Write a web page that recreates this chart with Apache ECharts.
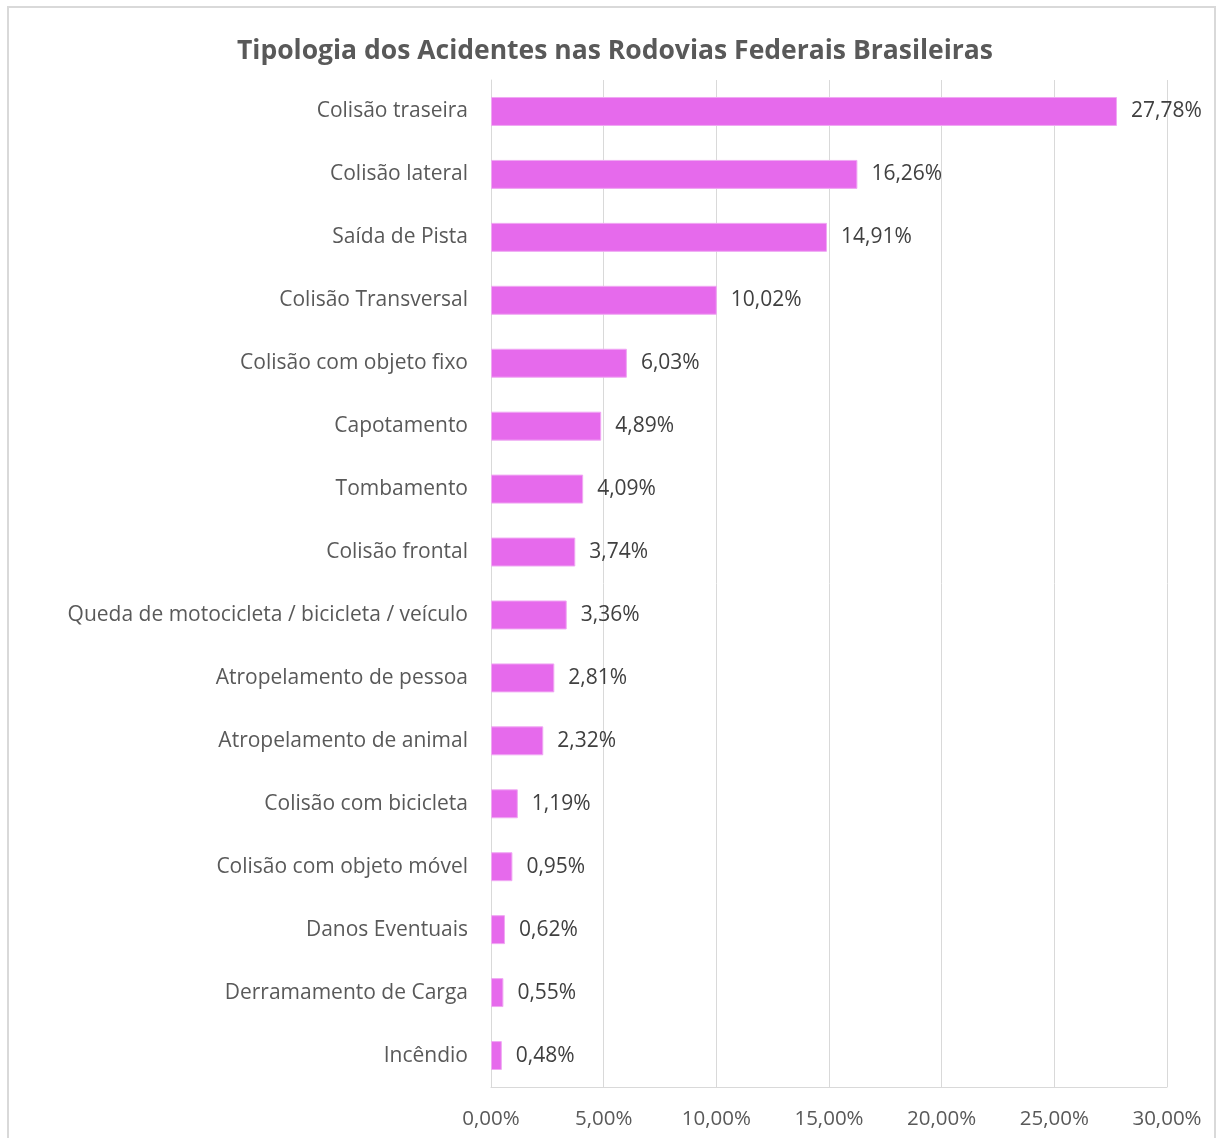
<!DOCTYPE html>
<html lang="pt">
<head>
<meta charset="UTF-8">
<style>
    html, body { height: 100%; margin: 0; background: #fff; }
    #frame {
        position: absolute; left: 7px; top: 6px; width: 1209px; height: 1150px;
        border: 2px solid #D9D9D9; box-sizing: border-box;
    }
    #chart { position: absolute; left: 0; top: 0; width: 1219px; height: 1138px; }
</style>
</head>
<body>
<div id="frame"></div>
<div id="chart"></div>
<script src="https://cdn.jsdelivr.net/npm/echarts@6/dist/echarts.min.js"></script>
<script>
    var categorias = [
        'Colisão traseira', 'Colisão lateral', 'Saída de Pista', 'Colisão Transversal',
        'Colisão com objeto fixo', 'Capotamento', 'Tombamento', 'Colisão frontal',
        'Queda de motocicleta / bicicleta / veículo', 'Atropelamento de pessoa',
        'Atropelamento de animal', 'Colisão com bicicleta', 'Colisão com objeto móvel',
        'Danos Eventuais', 'Derramamento de Carga', 'Incêndio'
    ];
    var percentuais = [27.78, 16.26, 14.91, 10.02, 6.03, 4.89, 4.09, 3.74, 3.36, 2.81, 2.32, 1.19, 0.95, 0.62, 0.55, 0.48];

    var fonte = '"Open Sans", sans-serif';
    function pct(v) { return v.toFixed(2).replace('.', ',') + '%'; }

    var myChart = echarts.init(document.getElementById('chart'));
    myChart.setOption({
        animation: false,
        title: {
            text: 'Tipologia dos Acidentes nas Rodovias Federais Brasileiras',
            left: 610,
            textAlign: 'center',
            top: 33,
            textStyle: { fontFamily: fonte, fontSize: 26.5, fontWeight: 'bold', color: '#595959' }
        },
        grid: { left: 491, right: 52, top: 80, bottom: 51 },
        xAxis: {
            type: 'value',
            min: 0,
            max: 30,
            interval: 5,
            axisLine: { show: true, lineStyle: { color: '#D9D9D9' } },
            axisTick: { show: false },
            splitLine: { lineStyle: { color: '#D9D9D9', width: 1 } },
            axisLabel: {
                margin: 22,
                fontFamily: fonte, fontSize: 20.5, color: '#595959',
                formatter: pct
            }
        },
        yAxis: {
            type: 'category',
            inverse: true,
            data: categorias,
            axisLine: { show: true, lineStyle: { color: '#D9D9D9' } },
            axisTick: { show: false },
            axisLabel: { margin: 23, fontFamily: fonte, fontSize: 21, color: '#595959', padding: [5, 0, 0, 0] }
        },
        series: [{
            type: 'bar',
            data: percentuais,
            barWidth: '46%',
            itemStyle: { color: '#E66AEC', borderColor: '#F0A8F3', borderWidth: 1 },
            label: {
                show: true,
                position: 'right',
                distance: 14,
                fontFamily: fonte, fontSize: 21, color: '#404040',
                padding: [6, 0, 0, 0],
                formatter: function (p) { return pct(p.value); }
            }
        }]
    });
</script>
</body>
</html>
